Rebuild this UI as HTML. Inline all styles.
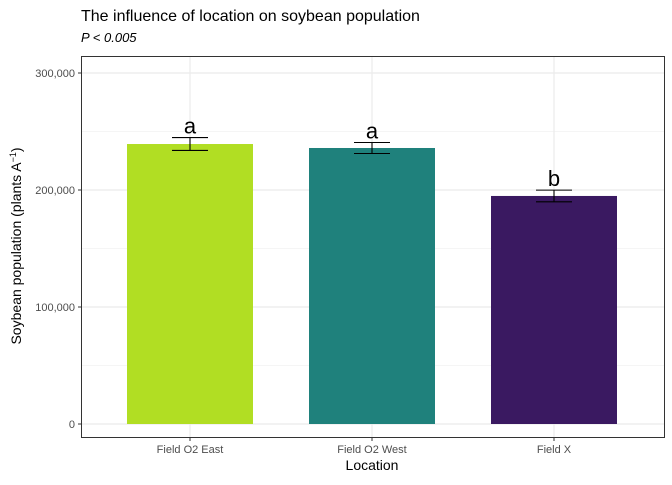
<!DOCTYPE html>
<html><head><meta charset="utf-8"><style>
body{margin:0;background:#fff;font-family:"Liberation Sans",Arial,sans-serif}
</style></head><body>
<svg id="chart" width="672" height="480" xmlns="http://www.w3.org/2000/svg">
<text x="81" y="21" font-size="16" fill="#000">The influence of location on soybean population</text>
<text x="81" y="42" font-size="13" font-style="italic" fill="#000">P &lt; 0.005</text>
<g id="grid"></g><g id="bars"></g><g id="axes"></g>
<rect x="81.5" y="56.5" width="583" height="381" fill="none" stroke="#333" stroke-width="1"/>
<text x="372" y="470" font-size="14" text-anchor="middle">Location</text>
<text transform="translate(21,246) rotate(-90)" font-size="14" text-anchor="middle">Soybean population (plants A<tspan dy="-5" font-size="9">−1</tspan><tspan dy="5">)</tspan></text>
</svg>
<script>
const categories=["Field O2 East","Field O2 West","Field X"];
const values=[239300,235900,194900];
const errors=[5500,4700,5000];
const letters=["a","a","b"];
const colors=["#B1DE23","#1F817C","#3A1961"];
const yTicks=[0,100000,200000,300000];
const yTickLabels=["0","100,000","200,000","300,000"];
const ns="http://www.w3.org/2000/svg";
const y=v=>424-v*117/100000;
const x=i=>190+i*182;
const bw=126;
function mk(t,a,p){const e=document.createElementNS(ns,t);for(const k in a)e.setAttribute(k,a[k]);p.appendChild(e);return e;}
const g=document.getElementById('grid'),b=document.getElementById('bars'),ax=document.getElementById('axes');
mk('rect',{x:81.5,y:56.5,width:583,height:381,fill:'#fff'},g);
for(let v=50000;v<=350000;v+=100000){if(y(v)<57)continue;const l=mk('line',{x1:82,x2:664,y1:y(v),y2:y(v),stroke:'#ebebeb','stroke-width':0.6},g);

}
yTicks.forEach((v,i)=>{const l=mk('line',{x1:82,x2:664,y1:y(v),y2:y(v),stroke:'#ebebeb','stroke-width':1.2},g);


mk('line',{x1:78,x2:81,y1:y(v),y2:y(v),stroke:'#333'},ax);
const t=mk('text',{x:75,y:y(v)+4,'font-size':11,'text-anchor':'end',fill:'#4d4d4d'},ax);t.textContent=yTickLabels[i];

});
categories.forEach((c,i)=>{const l=mk('line',{x1:x(i),x2:x(i),y1:57,y2:437,stroke:'#ebebeb','stroke-width':1.2},g);


const r=mk('rect',{x:x(i)-bw/2,y:y(values[i]),width:bw,height:y(0)-y(values[i]),fill:colors[i]},b);


const eg=mk('g',{stroke:'#000','stroke-width':1.1},b);


const hi=y(values[i]+errors[i]),lo=y(values[i]-errors[i]);
mk('line',{x1:x(i),x2:x(i),y1:hi,y2:lo},eg);
mk('line',{x1:x(i)-18,x2:x(i)+18,y1:hi,y2:hi},eg);
mk('line',{x1:x(i)-18,x2:x(i)+18,y1:lo,y2:lo},eg);
const lt=mk('text',{x:x(i),y:hi-4,'font-size':22,'text-anchor':'middle'},b);lt.textContent=letters[i];


mk('line',{x1:x(i),x2:x(i),y1:438,y2:441,stroke:'#333'},ax);
const t=mk('text',{x:x(i),y:453,'font-size':11,'text-anchor':'middle',fill:'#4d4d4d'},ax);t.textContent=c;

});
</script>
</body></html>
